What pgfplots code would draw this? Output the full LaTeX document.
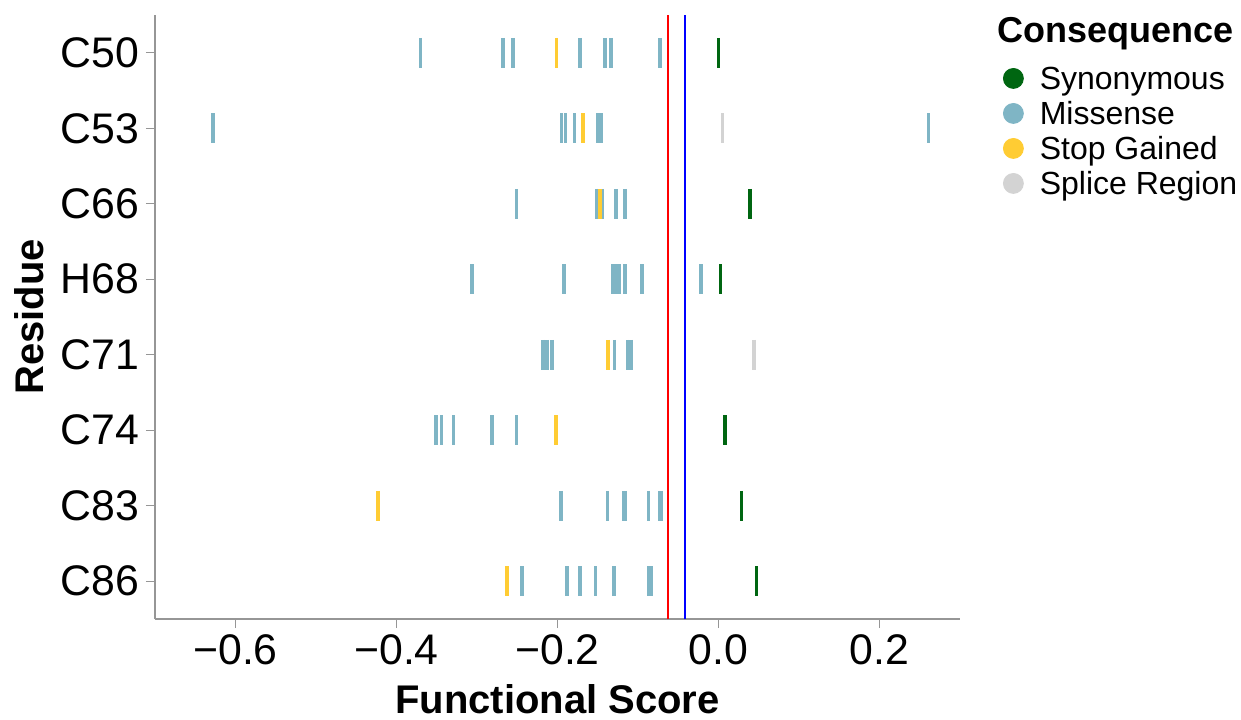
\documentclass[border=0pt]{standalone}
\usepackage{fontspec}
\setmainfont{Liberation Sans}
\usepackage{pgfplots}
\pgfplotsset{compat=1.18}
\definecolor{syn}{RGB}{0,102,17}
\definecolor{mis}{RGB}{127,181,197}
\definecolor{stp}{RGB}{255,204,51}
\definecolor{spl}{RGB}{211,211,211}
\definecolor{axgray}{RGB}{150,150,150}
\pgfplotsset{rug/.style={only marks, mark=|, mark size=7.5pt, color=#1,
  mark options={line width=1.8pt, draw=#1},
  legend image code/.code={\fill[#1] (5pt,0pt) circle (5pt);}}}

\begin{document}
\begin{tikzpicture}
\path[use as bounding box] (-77.5pt,-50pt) rectangle (543pt,309.5pt);
\begin{axis}[
  at={(0,0)}, anchor=south west,
  scale only axis, width=402.5pt, height=302pt,
  xmin=-0.7, xmax=0.3, ymin=-0.5, ymax=7.5,
  axis x line*=bottom, axis y line*=left,
  axis line style={draw=axgray, line width=0.7pt, -},
  tick style={draw=axgray, line width=0.7pt},
  major tick length=4.5pt, tick align=outside,
  xtick={-0.6,-0.4,-0.2,0,0.2},
  xticklabels={−0.6,−0.4,−0.2,0.0,0.2},
  ytick={0,1,2,3,4,5,6,7},
  yticklabels={C86,C83,C74,C71,H68,C66,C53,C50},
  tick label style={font=\fontsize{21.4}{25}\selectfont},
  xlabel={Functional Score}, ylabel={Residue},
  label style={font=\bfseries\fontsize{20}{24}\selectfont},
  xlabel style={at={(rel axis cs:0.5,0)}, anchor=base, yshift=-47pt},
  ylabel style={at={(rel axis cs:-0.1565,0.5)}, anchor=center},
  legend cell align=left,
  legend style={at={(rel axis cs:1.0534,0.924)}, anchor=north west,
    draw=none, fill=none, inner sep=0pt, outer sep=0pt, row sep=0pt,
    font=\fontsize{16}{19}\selectfont,
    nodes={inner xsep=8pt, inner ysep=0pt, text height=14.45pt, text depth=3.05pt}},
  clip=false,
]
% synonymous
\addplot[rug=syn]
  coordinates {(0.0,7) (0.0395,5) (0.0026,4) (0.0078,2) (0.0285,1) (0.0473,0)};
\addlegendentry{Synonymous}
% missense
\addplot[rug=mis]
  coordinates {
  (-0.370,7) (-0.268,7) (-0.255,7) (-0.172,7) (-0.141,7) (-0.1335,7) (-0.073,7)
  (-0.628,6) (-0.195,6) (-0.190,6) (-0.179,6) (-0.150,6) (-0.146,6) (0.261,6)
  (-0.251,5) (-0.1517,5) (-0.144,5) (-0.127,5) (-0.116,5)
  (-0.306,4) (-0.192,4) (-0.1316,4) (-0.127,4) (-0.123,4) (-0.116,4) (-0.095,4) (-0.022,4)
  (-0.2178,3) (-0.213,3) (-0.207,3) (-0.129,3) (-0.113,3) (-0.109,3)
  (-0.351,2) (-0.344,2) (-0.329,2) (-0.281,2) (-0.251,2)
  (-0.196,1) (-0.138,1) (-0.118,1) (-0.1153,1) (-0.0868,1) (-0.0732,1) (-0.0706,1)
  (-0.244,0) (-0.188,0) (-0.172,0) (-0.153,0) (-0.130,0) (-0.0868,0) (-0.0836,0)
  };
\addlegendentry{Missense}
% stop gained
\addplot[rug=stp]
  coordinates {(-0.201,7) (-0.1685,6) (-0.147,5) (-0.137,3) (-0.2016,2) (-0.423,1) (-0.263,0)};
\addlegendentry{Stop Gained}
% splice region
\addplot[rug=spl]
  coordinates {(0.005,6) (0.044,3)};
\addlegendentry{Splice Region}
% reference lines
\addplot[red, no markers, sharp plot, line width=0.9pt, forget plot]
  coordinates {(-0.0629,-0.5) (-0.0629,7.5)};
\addplot[blue, no markers, sharp plot, line width=0.9pt, forget plot]
  coordinates {(-0.0415,-0.5) (-0.0415,7.5)};
\node[anchor=base west, inner sep=0pt, font=\bfseries\fontsize{18}{21}\selectfont]
  at (rel axis cs:1.046,0.9553) {Consequence};
\end{axis}
\end{tikzpicture}
\end{document}
